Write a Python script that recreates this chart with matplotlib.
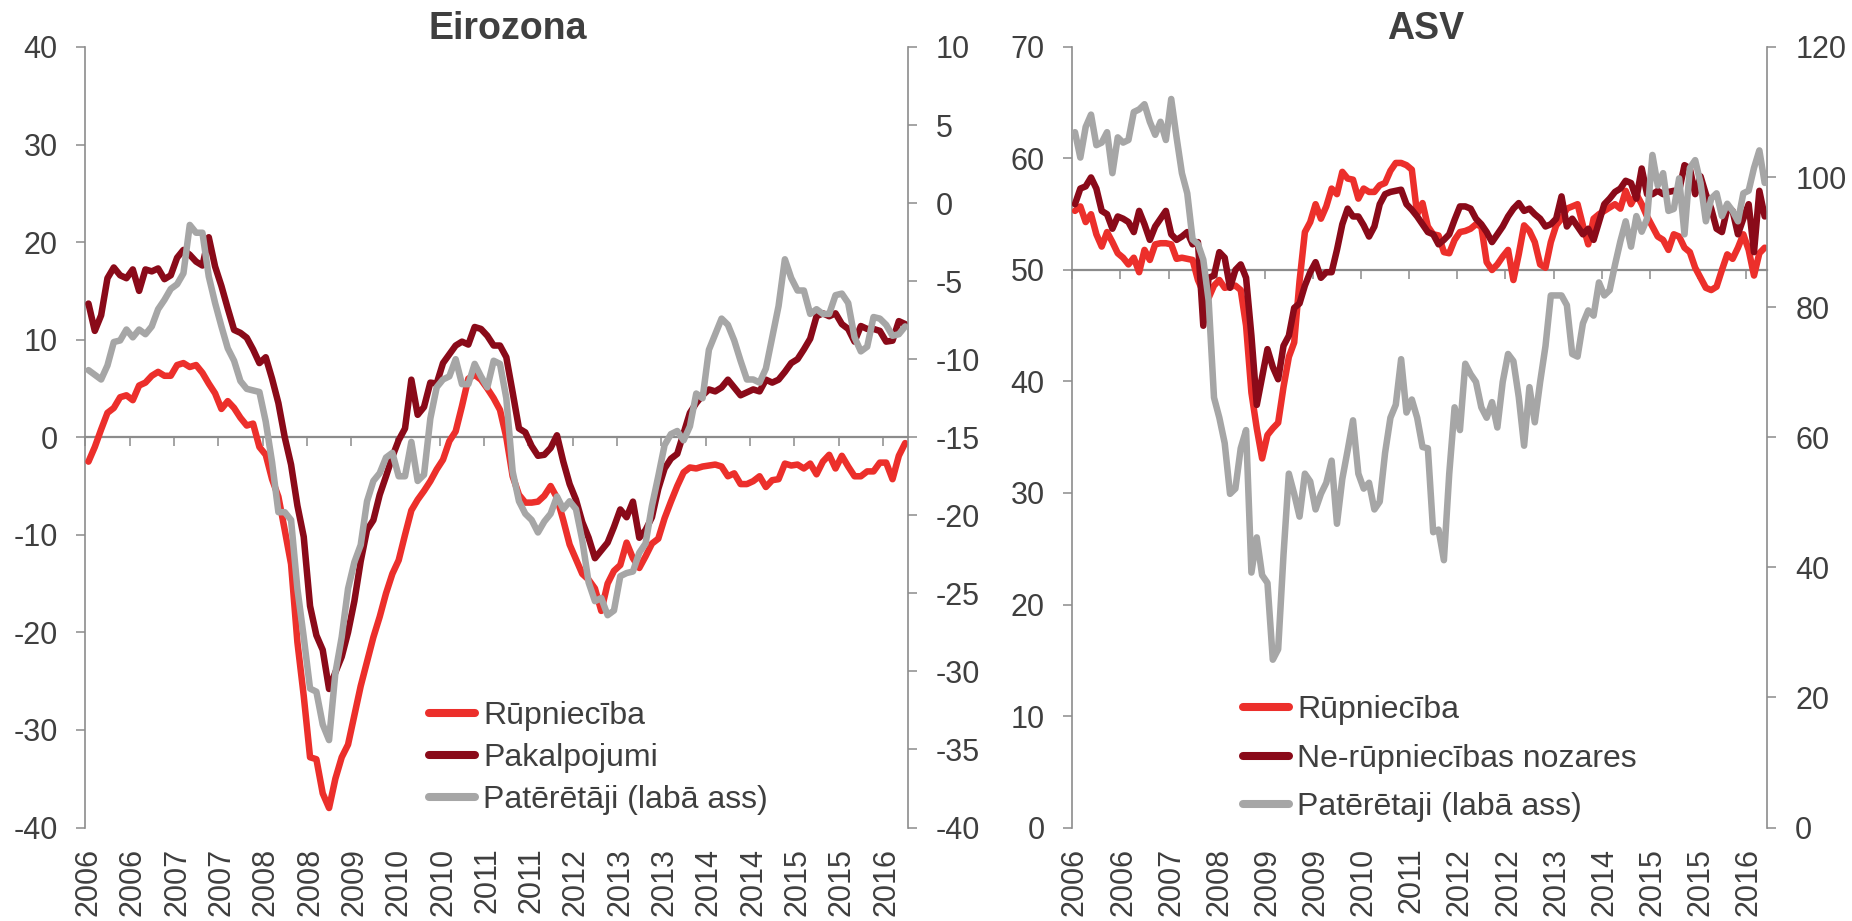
import matplotlib
matplotlib.use("Agg")
import matplotlib.pyplot as plt
from matplotlib.lines import Line2D

plt.rcParams['font.family'] = ['Liberation Sans', 'DejaVu Sans']
plt.rcParams['axes.unicode_minus'] = False

# ---------------- data (monthly, Jan 2006 - Oct 2016) ----------------
months = [f"{2006 + k // 12}-{k % 12 + 1:02d}" for k in range(130)]

ez_industry = [
    -2.5, -1.0, 0.8, 2.5, 3.0, 4.1, 4.3, 3.8, 5.3, 5.6,
    6.3, 6.7, 6.3, 6.3, 7.4, 7.6, 7.2, 7.4, 6.6, 5.5,
    4.5, 2.9, 3.7, 3.0, 2.0, 1.2, 1.4, -1.0, -1.8, -4.3,
    -6.1, -9.5, -13.0, -21.0, -26.5, -32.8, -33.0, -36.5, -38.0, -35.0,
    -32.8, -31.5, -28.5, -25.5, -23.0, -20.5, -18.4, -16.0, -14.0, -12.6,
    -10.0, -7.5, -6.4, -5.5, -4.5, -3.3, -2.3, -0.4, 0.6, 3.2,
    6.0, 6.4, 5.9, 5.0, 4.0, 2.8, 0.0, -4.0, -5.9, -6.7,
    -6.7, -6.6, -6.0, -5.0, -6.2, -8.5, -11.0, -12.5, -14.0, -14.6,
    -15.5, -17.8, -15.0, -13.7, -13.1, -10.8, -12.4, -13.4, -12.2, -10.9,
    -10.4, -8.3, -6.6, -5.0, -3.6, -3.1, -3.2, -3.0, -2.9, -2.8,
    -3.0, -4.0, -3.7, -4.8, -4.8, -4.5, -4.0, -5.1, -4.4, -4.3,
    -2.7, -2.9, -2.8, -3.2, -2.7, -3.8, -2.5, -1.8, -3.2, -1.9,
    -3.0, -4.0, -4.0, -3.5, -3.5, -2.6, -2.6, -4.3, -1.9, -0.6]

ez_services = [
    13.7, 10.9, 12.5, 16.3, 17.4, 16.6, 16.3, 17.2, 15.0, 17.2,
    17.0, 17.3, 16.2, 16.6, 18.4, 19.2, 18.7, 18.0, 17.6, 20.5,
    17.5, 15.5, 13.2, 11.0, 10.7, 10.2, 9.0, 7.6, 8.2, 6.0,
    3.5, 0.0, -2.8, -7.0, -10.2, -17.3, -20.3, -21.8, -25.8, -24.1,
    -22.5, -20.0, -16.8, -12.7, -9.5, -8.5, -5.9, -4.0, -2.0, -0.3,
    0.9, 5.9, 2.3, 3.1, 5.6, 5.5, 7.6, 8.5, 9.4, 9.8,
    9.5, 11.3, 11.1, 10.4, 9.4, 9.4, 8.2, 4.6, 0.9, 0.5,
    -0.9, -1.9, -1.8, -1.1, 0.2, -2.5, -4.8, -6.4, -8.7, -10.3,
    -12.4, -11.6, -10.8, -9.2, -7.4, -8.2, -6.6, -10.3, -9.5, -8.2,
    -5.3, -3.2, -2.2, -1.7, 0.4, 2.5, 3.5, 4.3, 4.9, 4.7,
    5.1, 5.9, 5.1, 4.3, 4.6, 4.9, 4.7, 5.9, 5.6, 5.9,
    6.7, 7.6, 8.0, 9.0, 10.1, 12.4, 12.7, 12.4, 12.7, 11.6,
    11.1, 9.8, 11.4, 11.1, 11.1, 10.9, 9.8, 9.9, 11.9, 11.6]

ez_consumers = [
    -10.7, -11.0, -11.3, -10.4, -8.9, -8.8, -8.1, -8.6, -8.1, -8.4,
    -7.9, -6.8, -6.2, -5.5, -5.2, -4.5, -1.4, -1.9, -1.9, -4.7,
    -6.4, -7.9, -9.3, -10.1, -11.4, -11.9, -12.0, -12.1, -14.0, -16.6,
    -19.8, -19.8, -20.3, -24.7, -27.8, -31.1, -31.3, -33.4, -34.4, -30.1,
    -27.8, -24.7, -23.0, -21.9, -19.1, -17.8, -17.3, -16.3, -16.0, -17.5,
    -17.5, -15.3, -17.8, -17.4, -13.8, -11.8, -11.3, -11.1, -10.0, -11.6,
    -11.6, -10.3, -11.1, -11.8, -10.1, -10.3, -12.5, -17.2, -19.1, -19.9,
    -20.3, -21.1, -20.4, -19.9, -18.8, -19.6, -19.1, -19.6, -21.6, -24.3,
    -25.5, -25.3, -26.4, -26.1, -23.9, -23.7, -23.6, -22.4, -21.8, -19.4,
    -17.5, -15.5, -14.8, -14.6, -15.2, -14.3, -12.2, -12.5, -9.4, -8.4,
    -7.4, -7.8, -8.8, -10.1, -11.3, -11.3, -11.5, -10.6, -8.6, -6.6,
    -3.6, -4.8, -5.6, -5.6, -7.1, -6.8, -7.1, -7.1, -5.9, -5.8,
    -6.4, -8.6, -9.5, -9.2, -7.3, -7.4, -7.8, -8.5, -8.4, -7.9]

us_industry = [
    55.3, 55.7, 54.3, 55.0, 53.2, 52.1, 53.4, 52.5, 51.5, 51.1,
    50.5, 51.1, 49.8, 51.8, 50.9, 52.3, 52.4, 52.4, 52.3, 51.0,
    51.1, 51.0, 50.9, 49.1, 48.0, 47.5, 48.6, 49.1, 48.4, 48.5,
    48.6, 48.2, 45.0, 39.0, 35.8, 33.1, 35.2, 35.8, 36.3, 39.5,
    42.2, 43.5, 49.0, 53.4, 54.3, 55.9, 54.6, 55.7, 57.3, 56.8,
    58.8, 58.2, 58.1, 56.4, 57.3, 57.0, 57.0, 57.6, 57.8, 58.9,
    59.6, 59.6, 59.4, 59.0, 55.0, 56.0, 53.9, 53.2, 53.1, 51.6,
    51.5, 52.7, 53.4, 53.5, 53.7, 54.1, 53.9, 50.7, 50.0, 50.5,
    51.2, 51.8, 49.1, 51.4, 54.0, 53.5, 52.5, 50.5, 50.2, 52.5,
    54.0, 54.6, 55.5, 55.7, 55.9, 54.0, 52.3, 54.6, 55.0, 55.3,
    55.6, 55.9, 55.5, 57.1, 55.9, 56.8, 55.9, 54.8, 53.9, 53.0,
    52.7, 51.8, 53.2, 53.0, 52.0, 51.6, 50.2, 49.3, 48.4, 48.2,
    48.5, 50.0, 51.4, 51.0, 52.0, 53.2, 51.8, 49.5, 51.5, 52.0]

us_nonmanuf = [
    55.9, 57.3, 57.5, 58.3, 57.3, 55.3, 55.0, 53.7, 54.8, 54.6,
    54.3, 53.4, 55.3, 54.1, 52.7, 53.9, 54.6, 55.3, 53.2, 52.7,
    53.0, 53.4, 52.3, 52.5, 45.0, 49.3, 49.5, 51.6, 51.1, 48.4,
    50.0, 50.5, 49.3, 44.1, 37.9, 40.4, 42.9, 41.3, 40.2, 43.2,
    44.1, 46.6, 47.0, 48.6, 49.8, 50.7, 49.3, 49.8, 49.8, 51.8,
    54.1, 55.5, 54.8, 54.8, 54.0, 53.0, 53.9, 55.9, 56.8, 57.0,
    57.1, 57.2, 55.9, 55.4, 54.8, 54.1, 53.4, 53.2, 52.3, 52.7,
    53.2, 54.5, 55.7, 55.7, 55.5, 54.6, 54.1, 53.4, 52.5, 53.2,
    53.9, 54.8, 55.5, 56.0, 55.3, 55.5, 55.0, 54.6, 53.9, 54.1,
    54.6, 56.6, 53.9, 54.6, 53.9, 53.2, 53.7, 52.7, 54.3, 55.9,
    56.4, 57.0, 57.3, 58.0, 57.8, 56.4, 59.1, 56.8, 56.8, 57.1,
    56.8, 57.0, 57.1, 57.1, 59.4, 59.1, 56.8, 58.4, 56.8, 55.5,
    53.7, 53.4, 55.5, 55.3, 53.2, 54.6, 55.9, 51.6, 57.1, 54.8]

us_consumers = [
    106.9, 103.0, 107.7, 109.6, 104.9, 105.3, 106.9, 100.6, 106.1, 105.3,
    105.7, 110.0, 110.4, 111.2, 108.5, 106.5, 108.5, 105.7, 112.0, 106.1,
    100.6, 97.5, 90.4, 89.7, 87.3, 81.0, 66.1, 63.0, 59.1, 51.3,
    52.1, 58.3, 61.1, 39.2, 44.6, 38.8, 37.6, 25.8, 27.4, 41.9,
    54.4, 51.3, 47.8, 54.4, 53.2, 48.9, 51.3, 53.0, 56.4, 46.7,
    53.6, 58.0, 62.6, 54.4, 52.1, 53.0, 48.9, 50.1, 57.6, 63.0,
    65.0, 72.0, 63.8, 65.8, 63.0, 58.5, 58.3, 45.4, 45.8, 41.1,
    54.4, 64.6, 61.1, 71.3, 69.7, 68.5, 64.6, 63.0, 65.4, 61.5,
    68.5, 72.8, 71.7, 66.2, 58.7, 67.7, 62.3, 68.5, 74.0, 81.8,
    81.8, 81.8, 80.3, 72.8, 72.4, 77.5, 79.5, 78.7, 83.8, 81.8,
    82.6, 86.5, 90.1, 93.2, 89.3, 94.0, 91.6, 93.6, 103.4, 98.7,
    100.6, 94.8, 95.1, 99.8, 91.2, 101.4, 102.6, 99.1, 93.2, 96.7,
    97.5, 94.0, 95.9, 94.8, 93.2, 97.5, 97.9, 101.4, 104.1, 99.1]

ez_tick_labels = ['2006', '2006', '2007', '2007', '2008', '2008', '2009', '2010', '2010',
                  '2011', '2011', '2012', '2013', '2013', '2014', '2014', '2015', '2015', '2016']
us_tick_labels = ['2006', '2006', '2007', '2008', '2009', '2009', '2010', '2011', '2012',
                  '2012', '2013', '2014', '2015', '2015', '2016']

ez_legend = ['Rūpniecība', 'Pakalpojumi', 'Patērētāji (labā ass)']
us_legend = ['Rūpniecība', 'Ne-rūpniecības nozares', 'Patērētaji (labā ass)']

# ---------------- style ----------------
RED = '#EC2F2B'
DARK = '#8A0A19'
GRAY = '#A6A6A6'
TEXT = '#3F3F3F'
SPINE = '#8C8C8C'
LW = 4.7
FS = 22
LEG_FS = 23

fig = plt.figure(figsize=(18.52, 9.21), dpi=100)


def panel(rect, s1, s2, s3, ylim1, ystep1, ylim2, ystep2, base,
          step, tick_labels, leg_labels, leg_xy, leg_spacing, title, title_x):
    n = len(s1)
    x = list(range(n))
    ax = fig.add_axes(rect)
    ax.plot(x, s1, color=RED, lw=LW, solid_joinstyle='round', solid_capstyle='round', zorder=3)
    ax.plot(x, s2, color=DARK, lw=LW, solid_joinstyle='round', solid_capstyle='round', zorder=4)
    ax.set_xlim(-0.5, n - 0.5)
    ax.set_ylim(*ylim1)
    ax.set_yticks(range(ylim1[0], ylim1[1] + 1, ystep1))
    for s in ('top', 'right'):
        ax.spines[s].set_visible(False)
    ax.spines['left'].set_color(SPINE)
    ax.spines['left'].set_linewidth(1.2)
    ax.spines['bottom'].set_position(('data', base))
    ax.spines['bottom'].set_color(SPINE)
    ax.spines['bottom'].set_linewidth(1.6)
    ax.spines['bottom'].set_zorder(1)
    ax.set_xticks([-0.5 + step * k for k in range(len(tick_labels))])
    ax.tick_params(axis='x', direction='out', length=6.5, width=1.1, color=SPINE,
                   labelbottom=False)
    ax.tick_params(axis='y', direction='out', length=6.5, width=1.1, color=SPINE,
                   pad=13.5, labelsize=FS, labelcolor=TEXT)

    sec = ax.secondary_xaxis('bottom')
    sec.set_xticks([step * k for k in range(len(tick_labels))], labels=tick_labels)
    sec.tick_params(length=0, pad=14.5, labelsize=FS, labelcolor=TEXT, labelrotation=90)
    sec.spines['bottom'].set_visible(False)

    ax2 = ax.twinx()
    ax2.plot(x, s3, color=GRAY, lw=LW, solid_joinstyle='round', solid_capstyle='round', zorder=3)
    ax2.set_ylim(*ylim2)
    ax2.set_yticks(range(ylim2[0], ylim2[1] + 1, ystep2))
    for s in ('top', 'left', 'bottom'):
        ax2.spines[s].set_visible(False)
    ax2.spines['right'].set_color(SPINE)
    ax2.spines['right'].set_linewidth(1.2)
    ax2.tick_params(axis='y', direction='out', length=6.5, width=1.1, color=SPINE,
                    pad=13.5, labelsize=FS, labelcolor=TEXT)

    handles = [Line2D([], [], color=c, lw=5.8, solid_capstyle='round') for c in (RED, DARK, GRAY)]
    ax2.legend(handles, leg_labels, loc='upper left', bbox_to_anchor=leg_xy,
               bbox_transform=fig.transFigure, frameon=False, borderpad=0,
               borderaxespad=0, handlelength=1.45, handletextpad=0.25,
               labelspacing=leg_spacing, fontsize=LEG_FS, labelcolor=TEXT)
    fig.text(title_x, 0.969, title, ha='center', va='center', fontsize=27,
             fontweight='bold', color=TEXT)


panel([0.04606, 0.1015, 0.4444, 0.8475], ez_industry, ez_services, ez_consumers,
      (-40, 40), 10, (-40, 10), 5, 0, 7, ez_tick_labels, ez_legend,
      (0.2315, 0.2390), 0.38, 'Eirozona', 0.274)

panel([0.5790, 0.1015, 0.3753, 0.8475], us_industry, us_nonmanuf, us_consumers,
      (0, 70), 10, (0, 120), 20, 50, 9, us_tick_labels, us_legend,
      (0.6712, 0.2450), 0.58, 'ASV', 0.7698)

fig.savefig('out.png', dpi=100)
